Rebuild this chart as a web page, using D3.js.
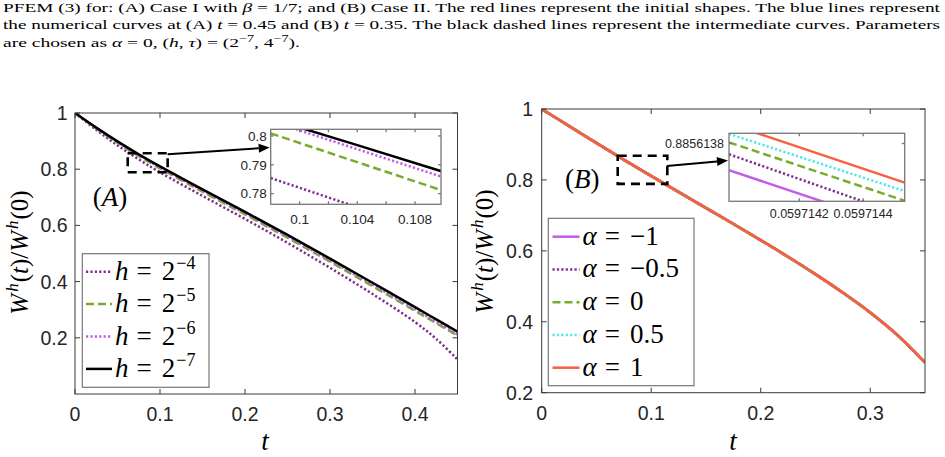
<!DOCTYPE html>
<html><head><meta charset="utf-8">
<script src="https://cdn.jsdelivr.net/npm/d3@7"></script>
<style>body{margin:0;background:#fff} svg{display:block}</style>
</head><body><svg id="c" width="945" height="457"></svg>
<script>
// ---------- data ----------
const captionLines = [
  [["PFEM (3) for: (A) Case I with ",0],["β",1],[" = 1/7; and (B) Case II. The red lines represent the initial shapes. The blue lines represent",0]],
  [["the numerical curves at (A) ",0],["t",1],[" = 0.45 and (B) ",0],["t",1],[" = 0.35. The black dashed lines represent the intermediate curves. Parameters",0]],
  [["are chosen as ",0],["α",1],[" = 0, (",0],["h",1],[", ",0],["τ",1],[") = (2",0],["−7",2],[", 4",3],["−7",2],[").",3]]
];
const captionWidths = [937, 937, 297];

// Panel A
const tA     = [0, 0.025, 0.05, 0.075, 0.1, 0.15, 0.2, 0.25, 0.3, 0.35, 0.4, 0.425, 0.45];
const wA_h4  = [1, 0.940, 0.885, 0.835, 0.789, 0.705, 0.623, 0.538, 0.449, 0.356, 0.256, 0.196, 0.123];
const wA_h5  = [1, 0.945, 0.894, 0.847, 0.803, 0.720, 0.639, 0.556, 0.471, 0.384, 0.296, 0.252, 0.208];
const wA_h6  = [1, 0.946, 0.896, 0.850, 0.806, 0.724, 0.643, 0.560, 0.475, 0.389, 0.301, 0.2565, 0.212];
const wA_h7  = [1, 0.948, 0.899, 0.853, 0.810, 0.728, 0.648, 0.566, 0.482, 0.396, 0.309, 0.2655, 0.222];
const labelsA = ["−4", "−5", "−6", "−7"];
const xTicksA = [0, 0.1, 0.2, 0.3, 0.4];
const yTicksA = [0.2, 0.4, 0.6, 0.8, 1];
// Panel A inset
const tAi     = [0.098, 0.104, 0.11];
const wAi_h4  = [0.7854, 0.7753, 0.7652];
const wAi_h5  = [0.8009, 0.7909, 0.7809];
const wAi_h6  = [0.8052, 0.7954, 0.7856];
const wAi_h7  = [0.8060, 0.7968, 0.7875];
const xTicksAi = [0.1, 0.102, 0.104, 0.106, 0.108];
const xLabelsAi = [0.1, 0.104, 0.108];
const yTicksAi = [0.78, 0.79, 0.8];

// Panel B
const tB   = [0, 0.025, 0.05, 0.075, 0.1, 0.125, 0.15, 0.175, 0.2, 0.225, 0.25, 0.275, 0.3, 0.325, 0.35];
const wB   = [1, 0.952, 0.904, 0.857, 0.811, 0.766, 0.721, 0.676, 0.630, 0.583, 0.534, 0.482, 0.426, 0.362, 0.285];
const labelsB = ["−1", "−0.5", "0", "0.5", "1"];
const xTicksB = [0, 0.1, 0.2, 0.3];
const yTicksB = [0.2, 0.4, 0.6, 0.8, 1];
// Panel B inset
const tBi      = [0.05971398, 0.05971453];
const wBi_m1   = [0.88561333, 0.88561229];
const wBi_m05  = [0.88561361, 0.88561252];
const wBi_0    = [0.88561382, 0.88561279];
const wBi_p05  = [0.88561397, 0.88561296];
const wBi_p1   = [0.88561415, 0.88561311];
const xTicksBi = [0.0597142, 0.0597144];
const yTicksBi = [0.8856138];

// ---------- styles ----------
const C = {black:"#000000", green:"#77AC30", magenta:"#C25EE6", purple:"#7E2F8E", cyan:"#4DE8E8", red:"#F5603F"};
const STY = {
  solid:  {dash:null, cap:"butt"},
  dotted: {dash:"2.2 2.2", cap:"butt"},
  dashed: {dash:"8 4", cap:"butt"}
};
const seriesA = [
  {w:wA_h4, wi:wAi_h4, color:C.purple, sty:"dotted", lab:labelsA[0]},
  {w:wA_h5, wi:wAi_h5, color:C.green, sty:"dashed", lab:labelsA[1]},
  {w:wA_h6, wi:wAi_h6, color:C.magenta, sty:"dotted", lab:labelsA[2]},
  {w:wA_h7, wi:wAi_h7, color:C.black, sty:"solid", lab:labelsA[3]}
];
const seriesB = [
  {w:wB, wi:wBi_m1, color:C.magenta, sty:"solid", lab:labelsB[0]},
  {w:wB, wi:wBi_m05, color:C.purple, sty:"dotted", lab:labelsB[1]},
  {w:wB, wi:wBi_0, color:C.green, sty:"dashed", lab:labelsB[2]},
  {w:wB, wi:wBi_p05, color:C.cyan, sty:"dotted", lab:labelsB[3]},
  {w:wB, wi:wBi_p1, color:C.red, sty:"solid", lab:labelsB[4]}
];

const svg = d3.select("#c");
const SANS = "'Liberation Sans', Arial, Helvetica, sans-serif";
const SERIF = "'Liberation Serif', 'Times New Roman', serif";
const AX = "#3a3a3a";

// ---------- caption ----------
const capY = [12, 29.3, 46.6];
captionLines.forEach((line, i) => {
  const t = svg.append("text").attr("x", 3).attr("y", capY[i])
    .attr("font-family", SERIF).attr("font-size", 13.2).attr("fill", "#000")
    .attr("textLength", captionWidths[i]).attr("lengthAdjust", "spacingAndGlyphs");
  line.forEach(([s, k]) => {
    const ts = t.append("tspan").text(s);
    if (k === 1) ts.attr("font-style", "italic");
    if (k === 2) ts.attr("font-size", 9.5).attr("dy", -5);
    if (k === 3) ts.attr("dy", 5);
  });
});

// ---------- helpers ----------
function drawFrame(g, x, y, xt, yt, opts) {
  const [x0, x1] = x.range(), [y0, y1] = y.range();
  const tl = opts.tickLen || 5;
  const gg = g.append("g").attr("stroke", opts.color || AX).attr("stroke-width", opts.sw || 1).attr("fill", "none");
  xt.forEach(v => {
    const px = x(v);
    gg.append("line").attr("x1", px).attr("x2", px).attr("y1", y0).attr("y2", y0 - tl);
    gg.append("line").attr("x1", px).attr("x2", px).attr("y1", y1).attr("y2", y1 + tl);
  });
  yt.forEach(v => {
    const py = y(v);
    gg.append("line").attr("x1", x0).attr("x2", x0 + tl).attr("y1", py).attr("y2", py);
    gg.append("line").attr("x1", x1).attr("x2", x1 - tl).attr("y1", py).attr("y2", py);
  });
  gg.append("rect").attr("x", x0).attr("y", y1).attr("width", x1 - x0).attr("height", y0 - y1);
}
function tickLabels(g, x, y, xl, yl, o) {
  const [x0] = x.range(), [y0] = y.range();
  g.selectAll(null).data(xl).join("text")
    .attr("x", d => x(d)).attr("y", y0 + o.xOff).attr("text-anchor", "middle")
    .attr("font-family", SANS).attr("font-size", o.fs).attr("fill", "#262626").text(d => o.xf ? o.xf(d) : d);
  g.selectAll(null).data(yl).join("text")
    .attr("x", x0 - o.yOff).attr("y", d => y(d)).attr("dy", "0.36em").attr("text-anchor", "end")
    .attr("font-family", SANS).attr("font-size", o.fs).attr("fill", "#262626").text(d => o.yf ? o.yf(d) : d);
}
function styledPath(g, color, sty, sw) {
  const p = g.append("path").attr("fill", "none").attr("stroke", color).attr("stroke-width", sw)
    .attr("stroke-linecap", STY[sty].cap).attr("stroke-linejoin", "round");
  if (STY[sty].dash) p.attr("stroke-dasharray", STY[sty].dash);
  return p;
}
function clip(id, x, y) {
  const [x0, x1] = x.range(), [y0, y1] = y.range();
  svg.append("clipPath").attr("id", id).append("rect").attr("x", x0).attr("y", y1).attr("width", x1 - x0).attr("height", y0 - y1);
  return `url(#${id})`;
}
function yLabel(cx, cy) {
  const t = svg.append("text").attr("transform", `translate(${cx},${cy}) rotate(-90)`)
    .attr("text-anchor", "middle").attr("font-family", SERIF).attr("font-size", 25).attr("fill", "#000");
  const parts = [["W", "i"], ["h", "s"], ["(", "r"], ["t", "i"], [")/", "r"], ["W", "i"], ["h", "s"], ["(0)", "r"]];
  let up = false;
  parts.forEach(([s, k]) => {
    const ts = t.append("tspan").text(s);
    if (k === "i") ts.attr("font-style", "italic");
    if (k === "s") { ts.attr("font-style", "italic").attr("font-size", 17).attr("dy", -10).attr("dx", 2); up = true; }
    else if (up) { ts.attr("dy", 10).attr("dx", 1); up = false; }
  });
}
function arrow(x1, y1, x2, y2) {
  const ang = Math.atan2(y2 - y1, x2 - x1), L = 11, W = 4.5;
  const bx = x2 - L * Math.cos(ang), by = y2 - L * Math.sin(ang);
  svg.append("line").attr("x1", x1).attr("y1", y1).attr("x2", bx).attr("y2", by).attr("stroke", "#000").attr("stroke-width", 2);
  const px = -Math.sin(ang) * W, py = Math.cos(ang) * W;
  svg.append("path").attr("d", `M${x2},${y2}L${bx + px},${by + py}L${bx - px},${by - py}Z`).attr("fill", "#000");
}
function dashRect(x, y, t0, t1, v0, v1) {
  svg.append("rect").attr("x", x(t0)).attr("y", y(v1)).attr("width", x(t1) - x(t0)).attr("height", y(v0) - y(v1))
    .attr("fill", "none").attr("stroke", "#000").attr("stroke-width", 2.6).attr("stroke-dasharray", "9 6");
}
function legendText(g, x, y, sym, val, sup) {
  const t = g.append("text").attr("x", x).attr("y", y).attr("font-family", SERIF).attr("font-size", 27);
  t.append("tspan").attr("font-style", "italic").text(sym);
  t.append("tspan").attr("dx", 8).text("=");
  t.append("tspan").attr("dx", 10).text(val);
  if (sup) t.append("tspan").attr("font-size", 18).attr("dy", -11).attr("dx", 1).text(sup);
}

// ---------- Panel A ----------
const xA = d3.scaleLinear().domain([0, 0.45]).range([75, 457.5]);
const yA = d3.scaleLinear().domain([0, 1]).range([394, 113]);
const gA = svg.append("g");
const lineA = d3.line().x((d, i) => xA(tA[i])).y(d => yA(d)).curve(d3.curveCatmullRom.alpha(0.5));
const cA = clip("cA", xA, yA);
seriesA.forEach(s => styledPath(gA, s.color, s.sty, 2.5).attr("clip-path", cA).attr("d", lineA(s.w)));
drawFrame(gA, xA, yA, xTicksA, yTicksA, {tickLen: 5});
tickLabels(gA, xA, yA, xTicksA, yTicksA, {fs: 19.5, xOff: 27, yOff: 7.5});
yLabel(28, 252.5);
svg.append("text").attr("x", 265).attr("y", 450).attr("text-anchor", "middle").attr("font-family", SERIF)
  .attr("font-style", "italic").attr("font-size", 27).text("t");
{
  const t = svg.append("text").attr("x", xA(0.021)).attr("y", yA(0.67)).attr("font-family", SERIF).attr("font-size", 27);
  t.append("tspan").text("(");
  t.append("tspan").attr("font-style", "italic").text("A");
  t.append("tspan").text(")");
}
dashRect(xA, yA, 0.062, 0.109, 0.789, 0.857);

// inset A
const xAi = d3.scaleLinear().domain([0.098, 0.1098]).range([270.7, 441]);
const yAi = d3.scaleLinear().domain([0.7763, 0.8023]).range([204.3, 129.3]);
svg.append("rect").attr("x", 270.7).attr("y", 129.3).attr("width", 170.3).attr("height", 75).attr("fill", "#fff");
const gAi = svg.append("g");
const cAi = clip("cAi", xAi, yAi);
const lineAi = d3.line().x((d, i) => xAi(tAi[i])).y(d => yAi(d));
seriesA.forEach(s => styledPath(gAi, s.color, s.sty, 2.5).attr("clip-path", cAi).attr("d", lineAi(s.wi)));
drawFrame(gAi, xAi, yAi, xTicksAi, yTicksAi, {tickLen: 3, color: "#777", sw: 1.3});
tickLabels(gAi, xAi, yAi, xLabelsAi, yTicksAi, {fs: 13.5, xOff: 20, yOff: 4});
arrow(xA(0.109), yA(0.853), xAi(0.098) - 1, yAi(0.796));

// legend A
{
  const lg = svg.append("g");
  lg.append("rect").attr("x", 82.3).attr("y", 253.7).attr("width", 126.7).attr("height", 133.6)
    .attr("fill", "#fff").attr("stroke", "#777").attr("stroke-width", 1.2);
  seriesA.forEach((s, i) => {
    const cy = 271.7 + i * 32.4;
    styledPath(lg, s.color, s.sty, 2.5).attr("d", `M86,${cy}H112`);
    legendText(lg, 115, cy + 8, "h", "2", s.lab);
  });
}

// ---------- Panel B ----------
const xB = d3.scaleLinear().domain([0, 0.35]).range([541.7, 925]);
const yB = d3.scaleLinear().domain([0.2, 1]).range([392.7, 109]);
const gB = svg.append("g");
const lineB = d3.line().x((d, i) => xB(tB[i])).y(d => yB(d)).curve(d3.curveCatmullRom.alpha(0.5));
const cB = clip("cB", xB, yB);
seriesB.forEach(s => styledPath(gB, s.color, s.sty, 2.8).attr("clip-path", cB).attr("d", lineB(s.w)));
drawFrame(gB, xB, yB, xTicksB, yTicksB, {tickLen: 5});
tickLabels(gB, xB, yB, xTicksB, yTicksB, {fs: 19.5, xOff: 27.5, yOff: 8.5});
yLabel(493, 251.5);
svg.append("text").attr("x", 733).attr("y", 450).attr("text-anchor", "middle").attr("font-family", SERIF)
  .attr("font-style", "italic").attr("font-size", 27).text("t");
{
  const t = svg.append("text").attr("x", xB(0.0213)).attr("y", yB(0.778)).attr("font-family", SERIF).attr("font-size", 27);
  t.append("tspan").text("(");
  t.append("tspan").attr("font-style", "italic").text("B");
  t.append("tspan").text(")");
}
dashRect(xB, yB, 0.0694, 0.1147, 0.789, 0.868);

// inset B
const xBi = d3.scaleLinear().domain([0.05971398, 0.05971453]).range([729, 904.7]);
const yBi = d3.scaleLinear().domain([0.88561278, 0.88561398]).range([201.3, 133.3]);
svg.append("rect").attr("x", 729).attr("y", 133.3).attr("width", 175.7).attr("height", 68).attr("fill", "#fff");
const gBi = svg.append("g");
const cBi = clip("cBi", xBi, yBi);
const lineBi = d3.line().x((d, i) => xBi(tBi[i])).y(d => yBi(d));
seriesB.forEach(s => styledPath(gBi, s.color, s.sty, 2.5).attr("clip-path", cBi).attr("d", lineBi(s.wi)));
drawFrame(gBi, xBi, yBi, xTicksBi, yTicksBi, {tickLen: 3, color: "#777", sw: 1.3});
tickLabels(gBi, xBi, yBi, xTicksBi, yTicksBi, {fs: 12.5, xOff: 17, yOff: 5, xf: d => d.toFixed(7), yf: d => d.toFixed(7)});
arrow(xB(0.1142), yB(0.839), xBi(0.05971398) - 1, yBi(0.8856135));

// legend B
{
  const lg = svg.append("g");
  lg.append("rect").attr("x", 548.3).attr("y", 218.3).attr("width", 145.7).attr("height", 167.4)
    .attr("fill", "#fff").attr("stroke", "#777").attr("stroke-width", 1.2);
  seriesB.forEach((s, i) => {
    const cy = 236.7 + i * 32.75;
    styledPath(lg, s.color, s.sty, 2.5).attr("d", `M552.5,${cy}H579.5`);
    legendText(lg, 582.5, cy + 8, "α", s.lab, null);
  });
}
</script></body></html>
